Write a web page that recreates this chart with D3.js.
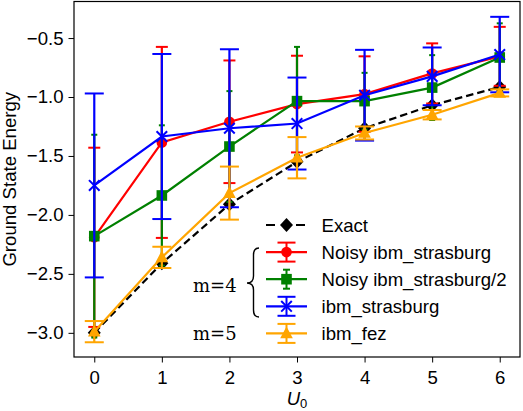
<!DOCTYPE html>
<html>
<head>
<meta charset="utf-8">
<script src="https://cdn.jsdelivr.net/npm/d3@7"></script>
<style>
  body { margin: 0; background: #fff; }
  text { font-family: "Liberation Sans", Arial, sans-serif; }
</style>
</head>
<body>
<div id="my_dataviz"></div>
<script>
// data
var u0 = [0, 1, 2, 3, 4, 5, 6];
var exact = [-3.0, -2.41, -1.91, -1.55, -1.265, -1.07, -0.915];
var noisyStras = [-2.19, -1.385, -1.21, -1.06, -0.975, -0.80, -0.655];
var noisyStrasErr = [0.76, 0.81, 0.52, 0.41, 0.32, 0.255, 0.25];
var noisyStras2 = [-2.18, -1.835, -1.42, -1.035, -1.035, -0.92, -0.665];
var noisyStras2Err = [0.86, 0.595, 0.47, 0.46, 0.24, 0.275, 0.29];
var ibmStras = [-1.75, -1.335, -1.265, -1.225, -0.985, -0.825, -0.64];
var ibmStrasErr = [0.78, 0.70, 0.67, 0.39, 0.385, 0.245, 0.32];
var ibmFez = [-2.99, -2.36, -1.815, -1.515, -1.305, -1.15, -0.965];
var ibmFezErr = [0.09, 0.09, 0.225, 0.175, 0.055, 0.04, 0.03];
var yTicks = [-3.0, -2.5, -2.0, -1.5, -1.0, -0.5];

var series = [
  {name: "Exact", values: exact, err: null, color: "black", marker: "diamond", dash: "7.5,4", cap: 0},
  {name: "Noisy ibm_strasburg", values: noisyStras, err: noisyStrasErr, color: "red", marker: "circle", cap: 6},
  {name: "Noisy ibm_strasburg/2", values: noisyStras2, err: noisyStras2Err, color: "green", marker: "square", cap: 3},
  {name: "ibm_strasburg", values: ibmStras, err: ibmStrasErr, color: "blue", marker: "x", cap: 9.5},
  {name: "ibm_fez", values: ibmFez, err: ibmFezErr, color: "orange", marker: "triangle", cap: 9.5}
];

var W = 523, H = 411;
var mLeft = 74, mRight = 520, mTop = 1.5, mBottom = 357;

var svg = d3.select("#my_dataviz")
  .append("svg")
    .attr("width", W)
    .attr("height", H);

var x = d3.scaleLinear().domain([-0.3, 6.3]).range([mLeft, mRight]);
var y = d3.scaleLinear().domain([-3.205, -0.19]).range([mBottom, mTop]);

// axes
svg.append("g")
  .attr("transform", "translate(0," + mBottom + ")")
  .call(d3.axisBottom(x).tickValues(u0).tickFormat(d3.format("d")).tickSize(5.5).tickPadding(8).tickSizeOuter(0))
  .call(function(g) {
    g.select(".domain").remove();
    g.selectAll("text").style("font-size", "18.6px").attr("fill", "black");
    g.selectAll("line").attr("stroke-width", 1);
  });

svg.append("g")
  .attr("transform", "translate(" + mLeft + ",0)")
  .call(d3.axisLeft(y).tickValues(yTicks).tickFormat(d3.format(".1f")).tickSize(5.5).tickPadding(5).tickSizeOuter(0))
  .call(function(g) {
    g.select(".domain").remove();
    g.selectAll("text").style("font-size", "18.6px").attr("fill", "black");
    g.selectAll("line").attr("stroke-width", 1);
  });

// markers
function drawMarker(g, type, color, cx, cy) {
  if (type == "circle") {
    g.append("circle").attr("cx", cx).attr("cy", cy).attr("r", 5.3).attr("fill", color);
  } else if (type == "square") {
    g.append("rect").attr("x", cx - 5.3).attr("y", cy - 5.3).attr("width", 10.6).attr("height", 10.6).attr("fill", color);
  } else if (type == "diamond") {
    g.append("path").attr("d", "M0,-7L6.5,0L0,7L-6.5,0Z").attr("transform", "translate(" + cx + "," + cy + ")").attr("fill", color);
  } else if (type == "triangle") {
    g.append("path").attr("d", "M0,-7L6.3,4.8L-6.3,4.8Z").attr("transform", "translate(" + cx + "," + cy + ")").attr("fill", color);
  } else if (type == "x") {
    g.append("path").attr("d", "M-5.3,-5.3L5.3,5.3M-5.3,5.3L5.3,-5.3").attr("transform", "translate(" + cx + "," + cy + ")")
      .attr("stroke", color).attr("stroke-width", 2).attr("fill", "none");
  }
}

var line = d3.line()
  .x(function(d) { return x(d.u); })
  .y(function(d) { return y(d.v); });

var plot = svg.append("g");

series.forEach(function(s) {
  var pts = u0.map(function(u, i) { return {u: u, v: s.values[i], e: s.err ? s.err[i] : 0}; });
  var g = plot.append("g");
  // error bars
  if (s.err) {
    pts.forEach(function(p) {
      var px = x(p.u), y1 = y(p.v + p.e), y2 = y(p.v - p.e);
      g.append("line").attr("x1", px).attr("x2", px).attr("y1", y1).attr("y2", y2)
        .attr("stroke", s.color).attr("stroke-width", 2.2);
      [y1, y2].forEach(function(yy) {
        g.append("line").attr("x1", px - s.cap).attr("x2", px + s.cap).attr("y1", yy).attr("y2", yy)
          .attr("stroke", s.color).attr("stroke-width", 2);
      });
    });
  }
  g.append("path")
    .attr("d", line(pts))
    .attr("fill", "none")
    .attr("stroke", s.color)
    .attr("stroke-width", 2.2)
    .attr("stroke-dasharray", s.dash || null);
  pts.forEach(function(p) { drawMarker(g, s.marker, s.color, x(p.u), y(p.v)); });
});

// frame
svg.append("rect")
  .attr("x", mLeft).attr("y", mTop)
  .attr("width", mRight - mLeft).attr("height", mBottom - mTop)
  .attr("fill", "none").attr("stroke", "black").attr("stroke-width", 1.2);

// legend
var legX = 266, legY = 225, legStep = 27.1;
series.forEach(function(s, i) {
  var ly = legY + i * legStep;
  var g = svg.append("g");
  g.append("line").attr("x1", legX).attr("x2", legX + 41).attr("y1", ly).attr("y2", ly)
    .attr("stroke", s.color).attr("stroke-width", 2.2).attr("stroke-dasharray", s.dash ? "9,6" : null);
  if (s.err) {
    var cx = legX + 20.5;
    g.append("line").attr("x1", cx).attr("x2", cx).attr("y1", ly - 9.5).attr("y2", ly + 9.5)
      .attr("stroke", s.color).attr("stroke-width", 2);
    var c = s.cap == 3 ? 3.5 : 9;
    [ly - 9.5, ly + 9.5].forEach(function(yy) {
      g.append("line").attr("x1", cx - c).attr("x2", cx + c).attr("y1", yy).attr("y2", yy)
        .attr("stroke", s.color).attr("stroke-width", 2);
    });
  }
  drawMarker(g, s.marker, s.color, legX + 20.5, ly);
  g.append("text").attr("x", 321.5).attr("y", ly + 6.7)
    .style("font-size", "18.6px").text(s.name);
});

// brace and m labels
svg.append("path")
  .attr("d", "M259,248 Q253.5,248 253.5,255 L253.5,276 Q253.5,283 247,283 Q253.5,283 253.5,290 L253.5,310 Q253.5,317 259,317")
  .attr("fill", "none").attr("stroke", "black").attr("stroke-width", 1.4);

svg.append("text").attr("x", 193).attr("y", 292)
  .style("font-family", "'DejaVu Serif', serif").style("font-size", "18px").text("m=4");
svg.append("text").attr("x", 193).attr("y", 339.5)
  .style("font-family", "'DejaVu Serif', serif").style("font-size", "18px").text("m=5");

// axis labels
svg.append("text")
  .attr("transform", "rotate(-90)")
  .attr("x", -(mTop + mBottom) / 2)
  .attr("y", 16)
  .attr("text-anchor", "middle")
  .style("font-size", "18.6px")
  .text("Ground State Energy");

var xl = svg.append("text")
  .attr("x", (mLeft + mRight) / 2)
  .attr("y", 404.5)
  .attr("text-anchor", "middle")
  .style("font-size", "18.6px");
xl.append("tspan").style("font-style", "italic").text("U");
xl.append("tspan").attr("dy", 3).style("font-size", "13px").text("0");
</script>
</body>
</html>
